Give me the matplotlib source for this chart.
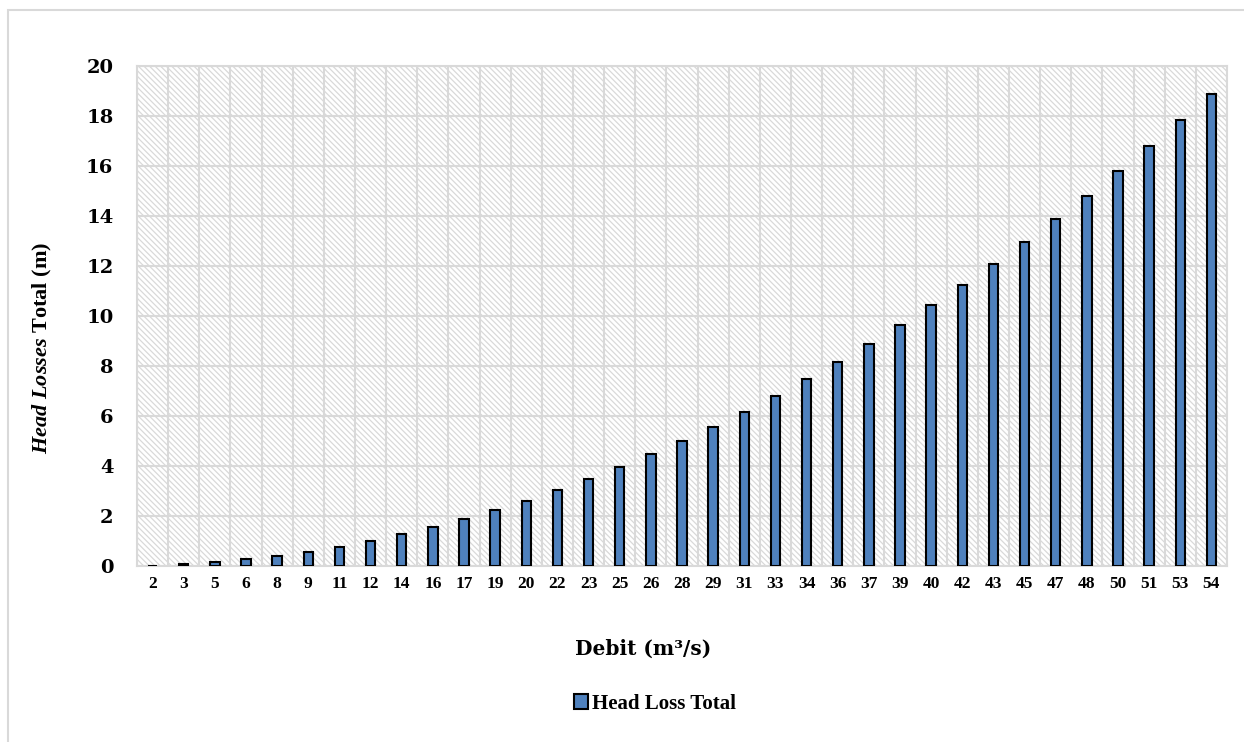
import matplotlib
matplotlib.use("Agg")
import matplotlib.pyplot as plt
from matplotlib.patches import Rectangle
import numpy as np

categories = ["2", "3", "5", "6", "8", "9", "11", "12", "14", "16", "17", "19",
              "20", "22", "23", "25", "26", "28", "29", "31", "33", "34", "36",
              "37", "39", "40", "42", "43", "45", "47", "48", "50", "51", "53", "54"]
head_loss = [0.02, 0.09, 0.16, 0.27, 0.41, 0.57, 0.77, 1.01, 1.27, 1.56, 1.88, 2.23,
             2.62, 3.04, 3.48, 3.96, 4.48, 5.01, 5.57, 6.17, 6.81, 7.47, 8.17,
             8.89, 9.65, 10.44, 11.24, 12.1, 12.97, 13.88, 14.81, 15.8, 16.8, 17.83, 18.89]
y_ticks = [0, 2, 4, 6, 8, 10, 12, 14, 16, 18, 20]

plt.rcParams['mathtext.fontset'] = 'custom'
plt.rcParams['mathtext.rm'] = 'Liberation Serif:bold'
plt.rcParams['mathtext.it'] = 'Liberation Serif:italic:bold'
plt.rcParams['mathtext.bf'] = 'Liberation Serif:bold'
plt.rcParams['hatch.linewidth'] = 0.9

W, H = 1244, 742
fig = plt.figure(figsize=(W / 100, H / 100), dpi=100)
fig.patch.set_facecolor('white')

# chart-area border (left/top visible)
fig.patches.append(Rectangle((8 / W, -0.1), 1.2, (H - 10) / H + 0.1, transform=fig.transFigure,
                             facecolor='none', edgecolor='#d9d9d9', lw=1.5, zorder=0))

left, right, top, bottom = 137, 1227, 66, 566
ax = fig.add_axes([left / W, 1 - bottom / H, (right - left) / W, (bottom - top) / H])

n = len(categories)
x = np.arange(n)

ax.set_facecolor('white')
bg = Rectangle((0, 0), 1, 1, transform=ax.transAxes, facecolor='white',
               edgecolor='#d9d9d9', hatch='\\\\\\\\\\\\', lw=0, zorder=0)
ax.add_patch(bg)

ax.bar(x, head_loss, width=0.3, color='#4f81bd', edgecolor='black', linewidth=1.5,
       zorder=3, label='Head Loss Total')

ax.set_xlim(-0.5, n - 0.5)
ax.set_ylim(0, 20)
ax.set_yticks(y_ticks)
ax.set_yticklabels([str(v) for v in y_ticks], fontfamily='DejaVu Serif',
                   fontweight='bold', fontsize=14)
ax.set_xticks(x)
ax.set_xticklabels(categories, fontfamily='Liberation Serif', fontweight='bold', fontsize=12.5)
ax.tick_params(axis='both', length=0)
ax.tick_params(axis='x', pad=7)
ax.tick_params(axis='y', pad=17)

ax.set_xticks(np.arange(-0.5, n, 1), minor=True)
ax.grid(True, which='minor', axis='x', color='#d9d9d9', lw=1.5, zorder=1)
ax.grid(True, which='major', axis='y', color='#d9d9d9', lw=1.5, zorder=1)
ax.tick_params(which='minor', length=0)
for s in ax.spines.values():
    s.set_color('#d9d9d9')
    s.set_linewidth(1.5)

fig.text(643 / W, 1 - 649 / H, 'Debit (m³/s)', ha='center', va='center',
         fontfamily='DejaVu Serif', fontweight='bold', fontsize=14.5)
fig.text(42 / W, 1 - 348 / H, r'$\mathit{Head\ Losses}$ Total (m)', ha='center', va='center',
         rotation=90, fontfamily='Liberation Serif', fontweight='bold', fontsize=16)

leg = fig.legend(loc='center', bbox_to_anchor=(655 / W, 1 - 704 / H), frameon=False,
                 prop={'family': 'Liberation Serif', 'weight': 'bold', 'size': 15},
                 handlelength=0.7, handleheight=0.7, handletextpad=0.2)

fig.savefig('out.png', dpi=100)
